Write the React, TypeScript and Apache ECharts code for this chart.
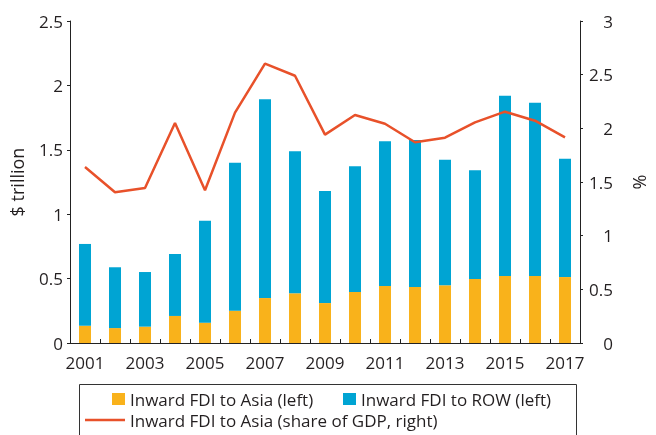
import React, { useEffect, useRef } from "react";
import * as echarts from "echarts";

const years = ["2001","2002","2003","2004","2005","2006","2007","2008","2009","2010","2011","2012","2013","2014","2015","2016","2017"];
const asiaFDI = [0.134,0.116,0.127,0.21,0.158,0.251,0.349,0.386,0.31,0.396,0.443,0.435,0.448,0.497,0.52,0.52,0.512];
const totalFDI = [0.769,0.588,0.551,0.691,0.95,1.4,1.892,1.488,1.18,1.372,1.566,1.576,1.423,1.341,1.92,1.866,1.431];
const rowFDI = totalFDI.map((t, i) => +(t - asiaFDI[i]).toFixed(3));
const asiaShareGDP = [1.64,1.404,1.444,2.05,1.423,2.146,2.603,2.49,1.941,2.124,2.043,1.87,1.913,2.056,2.155,2.071,1.916];

const FONT = "Open Sans";
const TXT = "#231f20";
const ORANGE = "#f9b21b";
const BLUE = "#00a4d3";
const RED = "#e8512a";

export default function App() {
  const ref = useRef<HTMLDivElement>(null);
  useEffect(() => {
    if (!ref.current) return;
    const chart = echarts.init(ref.current, undefined, { renderer: "svg" });
    const legendText = { fontFamily: FONT, fontSize: 17, lineHeight: 17, color: TXT };
    chart.setOption({
      animation: false,
      textStyle: { fontFamily: FONT },
      grid: { left: 67, right: 67, top: 21, bottom: 92, containLabel: false },
      legend: [
        { data: ["Inward FDI to Asia (left)"], left: 112, top: 390.5, itemWidth: 13, itemHeight: 12, icon: "rect", textStyle: legendText, padding: 0 },
        { data: ["Inward FDI to ROW (left)"], left: 343, top: 390.5, itemWidth: 13, itemHeight: 12, icon: "rect", textStyle: legendText, padding: 0 },
        { data: ["Inward FDI to Asia (share of GDP, right)"], left: 85, top: 411.5, itemWidth: 40, itemHeight: 2.5, icon: "rect", textStyle: legendText, padding: 0 },
      ],
      graphic: [
        { type: "rect", shape: { x: 79.5, y: 384.5, width: 497, height: 60 }, style: { fill: "none", stroke: "#333", lineWidth: 1 }, silent: true },
      ],
      xAxis: {
        type: "category",
        data: years,
        boundaryGap: true,
        axisLine: { lineStyle: { color: "#222", width: 1 } },
        axisTick: { show: true, inside: true, length: 4, interval: 0, lineStyle: { color: "#222" } },
        axisLabel: { interval: 1, color: TXT, fontSize: 17, fontFamily: FONT, margin: 11 },
      },
      yAxis: [
        {
          type: "value", min: 0, max: 2.5, interval: 0.5,
          name: "$ trillion", nameLocation: "middle", nameGap: 44, nameRotate: 90,
          nameTextStyle: { color: TXT, fontSize: 18, fontFamily: FONT },
          axisLine: { show: true, lineStyle: { color: "#222" } },
          axisTick: { show: true, length: 3, lineStyle: { color: "#222" } },
          axisLabel: { color: TXT, fontSize: 17, fontFamily: FONT, margin: 7 },
          splitLine: { show: false },
        },
        {
          type: "value", min: 0, max: 3, interval: 0.5, position: "right",
          name: "%", nameLocation: "middle", nameGap: 50, nameRotate: 90,
          nameTextStyle: { color: TXT, fontSize: 18, fontFamily: FONT },
          axisLine: { show: true, lineStyle: { color: "#222" } },
          axisTick: { show: true, length: 3, lineStyle: { color: "#222" } },
          axisLabel: { color: TXT, fontSize: 17, fontFamily: FONT, margin: 33, align: "right" },
          splitLine: { show: false },
        },
      ],
      series: [
        { name: "Inward FDI to Asia (left)", type: "bar", stack: "fdi", data: asiaFDI, barWidth: 12, itemStyle: { color: ORANGE } },
        { name: "Inward FDI to ROW (left)", type: "bar", stack: "fdi", data: rowFDI, barWidth: 12, itemStyle: { color: BLUE } },
        { name: "Inward FDI to Asia (share of GDP, right)", type: "line", yAxisIndex: 1, data: asiaShareGDP, symbol: "none", z: 5, lineStyle: { color: RED, width: 2.5 }, itemStyle: { color: RED } },
      ],
    });
    return () => chart.dispose();
  }, []);
  return <div ref={ref} style={{ position: "fixed", left: 0, top: 0, width: 656, height: 435 }} />;
}
